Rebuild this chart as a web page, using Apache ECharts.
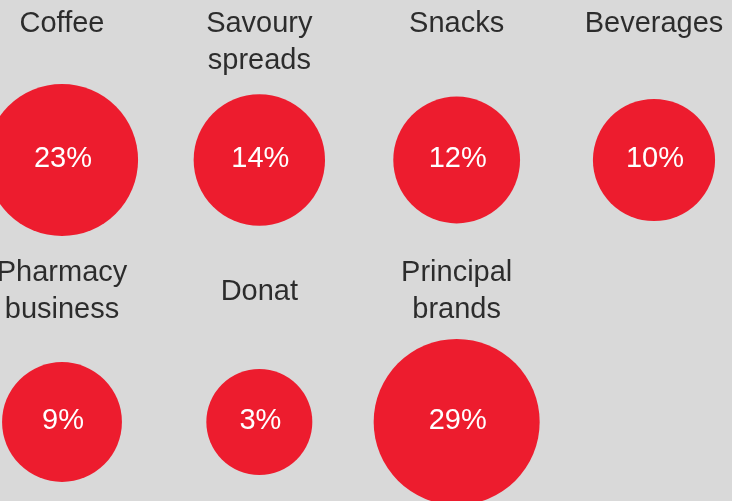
<!DOCTYPE html>
<html>
<head>
<meta charset="utf-8">
<script src="https://cdn.jsdelivr.net/npm/echarts@6/dist/echarts.min.js"></script>
<style>
  html, body { margin: 0; padding: 0; background: #d9d9d9; }
  #chart { width: 732px; height: 501px; }
</style>
</head>
<body>
<div id="chart"></div>
<script>
// Business segments and their share (%)
const categories = ['Coffee', 'Savoury\nspreads', 'Snacks', 'Beverages',
                    'Pharmacy\nbusiness', 'Donat', 'Principal\nbrands'];
const shares = [23, 14, 12, 10, 9, 3, 29];

const COLS = 4;
const RED = '#ed1c2e';
const FONT = "'Liberation Sans', Arial, sans-serif";

// Lay the segments out on a 4-column grid, row by row
const cells = categories.map((name, i) => ({
  name: name,
  col: i % COLS,
  row: Math.floor(i / COLS),
  value: shares[i]
}));

const bubbleData = cells.map(c => ({ name: c.name, value: [c.col, c.row, c.value] }));

// Segment names sit above each bubble: top-aligned in the first row,
// centred on a fixed line in the second row
const nameData = cells.map(c => ({
  name: c.name,
  value: [c.col, c.row, c.value],
  label: c.row === 0
    ? { verticalAlign: 'top', offset: [0, -155] }
    : { verticalAlign: 'middle', offset: [0, -130.5] }
}));

const chart = echarts.init(document.getElementById('chart'), null, { renderer: 'canvas' });
chart.setOption({
  backgroundColor: '#d9d9d9',
  animation: false,
  grid: { left: 62, right: 78, top: 160, bottom: 79 },
  xAxis: { type: 'value', min: 0, max: COLS - 1, show: false },
  yAxis: { type: 'value', min: 0, max: 1, inverse: true, show: false },
  visualMap: {
    show: false,
    type: 'continuous',
    seriesIndex: 0,
    dimension: 2,
    min: Math.min(...shares),
    max: Math.max(...shares),
    inRange: { symbolSize: [106, 166] }
  },
  series: [
    {
      type: 'scatter',
      clip: false,
      symbol: 'circle',
      data: bubbleData,
      itemStyle: { color: RED, opacity: 1 },
      label: {
        show: true,
        position: 'inside',
        formatter: p => p.value[2] + '%',
        color: '#ffffff',
        textBorderWidth: 0,
        fontFamily: FONT,
        fontSize: 29,
        offset: [1, -1]
      },
      emphasis: { disabled: true }
    },
    {
      type: 'scatter',
      clip: false,
      symbol: 'circle',
      symbolSize: 1,
      data: nameData,
      itemStyle: { color: 'rgba(0,0,0,0)' },
      label: {
        show: true,
        position: 'inside',
        formatter: p => p.name,
        color: '#000000',
        textBorderWidth: 0,
        fontFamily: FONT,
        fontSize: 29,
        lineHeight: 37,
        align: 'center'
      },
      emphasis: { disabled: true }
    }
  ]
});
</script>
</body>
</html>
